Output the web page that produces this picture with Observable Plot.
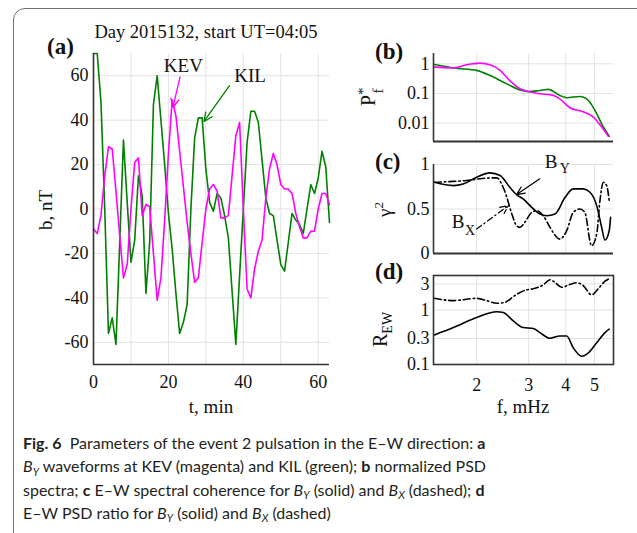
<!DOCTYPE html>
<html><head><meta charset="utf-8">
<script src="https://cdn.jsdelivr.net/npm/d3@7"></script>
<script src="https://cdn.jsdelivr.net/npm/@observablehq/plot@0.6"></script>
<style>
body{margin:0;background:#fff;}
#fig{position:relative;width:637px;height:533px;overflow:hidden;background:#fff;}
#frame{position:absolute;left:13px;top:8px;width:700px;height:600px;border:1.5px solid #707070;border-top-left-radius:12px;box-sizing:border-box;}
.panel{position:absolute;}
#caption{position:absolute;left:23px;top:431px;font-family:Lato,'Noto Sans',sans-serif;font-size:16px;line-height:23.4px;color:#231f20;white-space:nowrap;}
#caption sub{font-size:0.68em;vertical-align:baseline;position:relative;top:0.3em;line-height:0;}
</style></head>
<body>
<div id="fig">
  <div id="frame"></div>
  <div class="panel" id="pa" style="left:0;top:0"></div>
  <div class="panel" id="pb" style="left:340px;top:0"></div>
  <div class="panel" id="pc" style="left:340px;top:150px"></div>
  <div class="panel" id="pd" style="left:340px;top:260px"></div>
  <div id="caption"><b>Fig. 6</b>&nbsp; Parameters of the event 2 pulsation in the E–W direction: <b>a</b><br><i>B<sub>Y</sub></i> waveforms at KEV (magenta) and KIL (green); <b>b</b> normalized PSD<br>spectra; <b>c</b> E–W spectral coherence for <i>B<sub>Y</sub></i> (solid) and <i>B<sub>X</sub></i> (dashed); <b>d</b><br>E–W PSD ratio for <i>B<sub>Y</sub></i> (solid) and <i>B<sub>X</sub></i> (dashed)</div>
</div>
<script>
// ---------- panel (a): waveforms ----------
const tMin = d3.range(0, 64);
const kevB = [-9,-11,-3,15,28,27,8,-12,-31,-25, 0,21,23,-3,2,1,-20,-41,-31,-5, 25,49,42,26,10,-6,-20,-33,-31,-15, 0,9,11,8,-4,-4,-3,15,33,39, 0,-36,-40,-27,-19,-14,5,18,25,20, 11,9,9,7,-2,-8,-13,-13,-10,-10, 0,7,7,2];
const kilB = [70,70,48,0,-56,-49,-61,-15,31,3, -24,-14,15,6,-38,-15,47,60,40,20, -2,-18,-38,-56,-51,-43,0,32,41,41, 18,3,-1,7,5,-3,-13,-37,-61,-30, 0,30,44,44,39,22,5,-2,-3,-14, -25,-28,-15,-2,-5,-7,-11,0,11,7, 14,26,19,-6];
const tTicks = [0, 20, 40, 60];
const tGrid = [0, 10, 20, 30, 40, 50, 60];
const bTicks = [-60, -40, -20, 0, 20, 40, 60];
const stationNames = ["KEV", "KIL"];
const stationColors = ["#ff00ff", "#008000"];
const stationLabelT = [24.0, 41.8], stationLabelB = [64.5, 60];
const stationArrowT1 = [23.1, 36.3], stationArrowB1 = [59.5, 55.5];
const stationArrowT2 = [21.2, 29.5], stationArrowB2 = [45.7, 39.4];

// ---------- panel (b): normalized PSD ----------
const psdKevF = [1.44,1.67,1.85,2.05,2.22,2.40,2.59,2.80,2.99,3.27,3.63,3.82,4.13,4.58,4.96,5.29,5.57];
const psdKevV = [0.77,0.73,0.93,1.05,0.93,0.60,0.27,0.144,0.117,0.098,0.086,0.066,0.033,0.024,0.016,0.0074,0.0036];
const psdKilF = [1.44,1.71,2.0,2.22,2.53,2.84,2.99,3.27,3.49,3.82,4.03,4.47,4.77,5.02,5.36,5.61];
const psdKilV = [0.95,0.71,0.60,0.40,0.21,0.126,0.115,0.126,0.137,0.086,0.072,0.079,0.058,0.027,0.0074,0.0036];
const psdTicks = [0.01, 0.1, 1];

// ---------- panel (c): coherence ----------
const cohYF = [1.44,1.67,1.80,2.0,2.22,2.40,2.59,2.73,2.87,3.07,3.27,3.45,3.68,3.98,4.24,4.58,4.83,5.09,5.29,5.43,5.61,5.67];
const cohYV = [0.80,0.763,0.78,0.857,0.906,0.876,0.744,0.66,0.613,0.519,0.444,0.425,0.444,0.631,0.726,0.726,0.688,0.538,0.293,0.151,0.256,0.406];
const cohXF = [1.44,1.67,1.85,2.05,2.34,2.43,2.53,2.63,2.73,2.80,2.91,3.07,3.19,3.36,3.54,3.82,4.03,4.24,4.47,4.64,4.89,5.09,5.22,5.36,5.50,5.61];
const cohXV = [0.80,0.81,0.82,0.84,0.85,0.78,0.631,0.444,0.312,0.293,0.35,0.462,0.481,0.425,0.293,0.162,0.256,0.462,0.50,0.462,0.087,0.219,0.594,0.80,0.763,0.594];
const cohTicks = [0, 0.5, 1];
const compLetters = ["B", "B"], compSubs = ["Y", "X"];
const compLetterF = [3.40, 1.647], compLetterV = [1.028, 0.35];
const compSubF = [3.82, 1.826], compSubV = [0.96, 0.256];
const compArrowF1 = [3.27, 2.0], compArrowV1 = [0.839, 0.275];
const compArrowF2 = [2.73, 2.56], compArrowV2 = [0.662, 0.538];

// ---------- panel (d): PSD ratio ----------
const ratYF = [1.44,1.67,2.0,2.34,2.46,2.66,2.87,3.11,3.27,3.54,3.82,4.03,4.24,4.53,4.77,5.09,5.43,5.61];
const ratYV = [0.349,0.476,0.73,0.93,0.90,0.63,0.476,0.457,0.385,0.303,0.334,0.334,0.203,0.142,0.164,0.25,0.385,0.445];
const ratXF = [1.44,1.67,2.0,2.16,2.34,2.49,2.69,2.95,3.11,3.36,3.54,3.68,3.875,4.13,4.35,4.58,4.89,5.15,5.43,5.61];
const ratXV = [1.64,1.49,1.64,1.49,1.33,1.38,1.84,2.35,2.45,2.9,3.6,3.2,2.62,2.94,3.16,2.82,1.9,2.45,3.38,3.75];
const ratTicks = [0.1, 0.3, 1, 3];
const fTicks = [2, 3, 4, 5];
const fDomain = [1.43, 5.8];

// ---------- styling ----------
const serif = "'Liberation Serif','Times New Roman',serif";
const AX = "#333", GRID = "#e2e2e2";
const DASHDOT = "7,3,1.5,3";
const baseStyle = {fontFamily: serif, fontSize: "18px", color: "#111", background: "transparent", overflow: "visible"};
const plain = d => String(d);

function addText(svg, x, y, parts, opts = {}) {
  const t = d3.select(svg).append("text")
    .attr("font-family", serif).attr("fill", "#111")
    .attr("text-anchor", opts.anchor || "start")
    .attr("transform", `translate(${x},${y})` + (opts.rotate ? ` rotate(${opts.rotate})` : ""));
  for (const p of parts) {
    const s = t.append("tspan").text(p.text).attr("font-size", p.size || 18);
    if (p.weight) s.attr("font-weight", p.weight);
    if (p.dx) s.attr("dx", p.dx);
    if (p.dy) s.attr("dy", p.dy);
  }
  return t;
}

// ---- (a)
const chartA = Plot.plot({
  width: 340, height: 420,
  marginLeft: 93, marginRight: 11, marginTop: 53, marginBottom: 56,
  style: baseStyle,
  x: {domain: [0, 63], ticks: tTicks, tickFormat: plain, tickSize: 0, tickPadding: 11, label: null},
  y: {domain: [-70, 70], ticks: bTicks, tickFormat: plain, tickSize: 0, tickPadding: 5, label: null},
  marks: [
    Plot.ruleX(tGrid, {stroke: GRID}),
    Plot.ruleY(bTicks, {stroke: GRID}),
    Plot.line(tMin, {x: t => t, y: (t, i) => kilB[i], stroke: stationColors[1], strokeWidth: 1.6}),
    Plot.line(tMin, {x: t => t, y: (t, i) => kevB[i], stroke: stationColors[0], strokeWidth: 1.6}),
    Plot.ruleX([0], {stroke: AX, strokeWidth: 1.6}),
    Plot.ruleY([-70], {stroke: AX, strokeWidth: 1.6}),
    Plot.text(stationNames, {x: (d, i) => stationLabelT[i], y: (d, i) => stationLabelB[i], text: d => d, fontSize: 19}),
    Plot.arrow([0], {x1: () => stationArrowT1[0], y1: () => stationArrowB1[0], x2: () => stationArrowT2[0], y2: () => stationArrowB2[0], stroke: stationColors[0], strokeWidth: 1.3, headLength: 11, headAngle: 50}),
    Plot.arrow([1], {x1: () => stationArrowT1[1], y1: () => stationArrowB1[1], x2: () => stationArrowT2[1], y2: () => stationArrowB2[1], stroke: stationColors[1], strokeWidth: 1.3, headLength: 11, headAngle: 50})
  ]
});
document.getElementById("pa").appendChild(chartA);
addText(chartA, 206, 38, [{text: "Day 2015132, start UT=04:05", size: 18.5}], {anchor: "middle"});
addText(chartA, 47, 54, [{text: "(a)", size: 23, weight: "bold"}]);
addText(chartA, 52, 210, [{text: "b, nT", size: 19}], {anchor: "middle", rotate: -90});
addText(chartA, 211, 413, [{text: "t, min", size: 19}], {anchor: "middle"});

// ---- (b)
const chartB = Plot.plot({
  width: 297, height: 150,
  marginLeft: 93, marginRight: 24, marginTop: 53, marginBottom: 9,
  style: baseStyle,
  x: {type: "log", domain: fDomain, axis: null},
  y: {type: "log", domain: [0.0024, 2.22], ticks: psdTicks, tickFormat: plain, tickSize: 0, tickPadding: 4, label: null},
  marks: [
    Plot.ruleX(fTicks, {stroke: GRID}),
    Plot.ruleY(psdTicks, {stroke: GRID}),
    Plot.line(psdKilF, {x: f => f, y: (f, i) => psdKilV[i], stroke: stationColors[1], strokeWidth: 1.6, curve: "monotone-x"}),
    Plot.line(psdKevF, {x: f => f, y: (f, i) => psdKevV[i], stroke: stationColors[0], strokeWidth: 1.6, curve: "monotone-x"}),
    Plot.ruleX([fDomain[0]], {stroke: AX, strokeWidth: 1.6}),
    Plot.ruleY([0.0024], {stroke: AX, strokeWidth: 1.8})
  ]
});
document.getElementById("pb").appendChild(chartB);
addText(chartB, 35, 59, [{text: "(b)", size: 23, weight: "bold"}]);
addText(chartB, 35, 106, [{text: "P", size: 20}, {text: "*", size: 15, dy: -7}, {text: "f", size: 15, dx: -6, dy: 15}], {rotate: -90});

// ---- (c)
const chartC = Plot.plot({
  width: 297, height: 110,
  marginLeft: 93, marginRight: 24, marginTop: 14, marginBottom: 7,
  style: baseStyle,
  x: {type: "log", domain: fDomain, axis: null},
  y: {domain: [0, 1], ticks: cohTicks, tickFormat: plain, tickSize: 0, tickPadding: 4, label: null},
  marks: [
    Plot.ruleX(fTicks, {stroke: GRID}),
    Plot.ruleY(cohTicks, {stroke: GRID}),
    Plot.line(cohXF, {x: f => f, y: (f, i) => cohXV[i], stroke: "#000", strokeWidth: 1.6, strokeDasharray: DASHDOT, curve: "monotone-x"}),
    Plot.line(cohYF, {x: f => f, y: (f, i) => cohYV[i], stroke: "#000", strokeWidth: 1.6, curve: "monotone-x"}),
    Plot.ruleX([fDomain[0]], {stroke: AX, strokeWidth: 1.6}),
    Plot.ruleY([0], {stroke: AX, strokeWidth: 1.8}),
    Plot.text(compLetters, {x: (d, i) => compLetterF[i], y: (d, i) => compLetterV[i], text: d => d, textAnchor: "start", fontSize: 19, clip: false}),
    Plot.text(compSubs, {x: (d, i) => compSubF[i], y: (d, i) => compSubV[i], text: d => d, textAnchor: "start", fontSize: 14}),
    Plot.arrow([0], {x1: () => compArrowF1[0], y1: () => compArrowV1[0], x2: () => compArrowF2[0], y2: () => compArrowV2[0], stroke: "#000", strokeWidth: 1.2, headLength: 11, headAngle: 50}),
    Plot.arrow([1], {x1: () => compArrowF1[1], y1: () => compArrowV1[1], x2: () => compArrowF2[1], y2: () => compArrowV2[1], stroke: "#000", strokeWidth: 1.2, strokeDasharray: "6,3,1.5,3", headLength: 11, headAngle: 50})
  ]
});
document.getElementById("pc").appendChild(chartC);
addText(chartC, 35, 19, [{text: "(c)", size: 23, weight: "bold"}]);
addText(chartC, 51, 67, [{text: "γ", size: 19}, {text: "2", size: 13, dy: -8}], {rotate: -90});

// ---- (d)
const chartD = Plot.plot({
  width: 297, height: 160,
  marginLeft: 93, marginRight: 24, marginTop: 15, marginBottom: 56,
  style: baseStyle,
  x: {type: "log", domain: fDomain, ticks: fTicks, tickFormat: plain, tickSize: 0, tickPadding: 14, label: null},
  y: {type: "log", domain: [0.1, 4.3], ticks: ratTicks, tickFormat: plain, tickSize: 0, tickPadding: 4, label: null},
  marks: [
    Plot.ruleX(fTicks, {stroke: GRID}),
    Plot.ruleY(ratTicks, {stroke: GRID}),
    Plot.line(ratXF, {x: f => f, y: (f, i) => ratXV[i], stroke: "#000", strokeWidth: 1.6, strokeDasharray: DASHDOT, curve: "monotone-x"}),
    Plot.line(ratYF, {x: f => f, y: (f, i) => ratYV[i], stroke: "#000", strokeWidth: 1.6, curve: "monotone-x"}),
    Plot.frame({stroke: AX, strokeWidth: 1.6})
  ]
});
document.getElementById("pd").appendChild(chartD);
addText(chartD, 35, 19, [{text: "(d)", size: 23, weight: "bold"}]);
addText(chartD, 47, 87, [{text: "R", size: 20}, {text: "EW", size: 14, dy: 5}], {rotate: -90});
addText(chartD, 183, 153, [{text: "f, mHz", size: 19}], {anchor: "middle"});
</script>
</body></html>
